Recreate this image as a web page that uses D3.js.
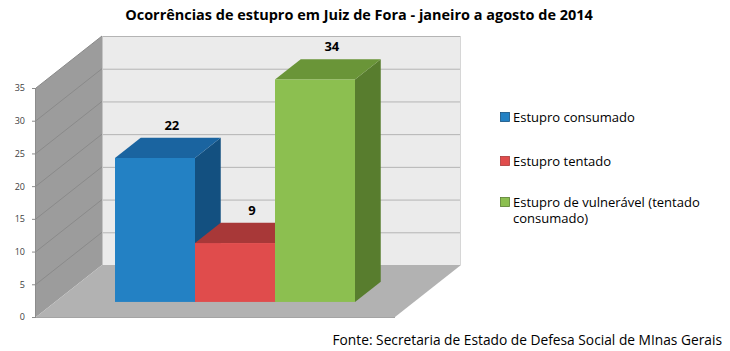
<!DOCTYPE html>
<html><head><meta charset="utf-8">
<script src="https://cdn.jsdelivr.net/npm/d3@7"></script>
<style>body{margin:0;background:#fff}svg{display:block}</style>
</head><body>
<script>
const categories = ["Estupro consumado", "Estupro tentado", "Estupro de vulnerável (tentado consumado)"];
const values = [22, 9, 34];
const yTicks = [0, 5, 10, 15, 20, 25, 30, 35];
const frontColors = ["#2381c4", "#e04c4c", "#8cbf50"];
const topColors = ["#1a64a0", "#a83838", "#6a9538"];
const sideColors = ["#135080", "#a83838", "#587d2e"];
const legendLines = [["Estupro consumado"], ["Estupro tentado"], ["Estupro de vulnerável (tentado", "consumado)"]];
const title = "Ocorrências de estupro em Juiz de Fora - janeiro a agosto de 2014";
const source = "Fonte: Secretaria de Estado de Defesa Social de MInas Gerais";

const W = 730, H = 351;
const svg = d3.select("body").append("svg").attr("width", W).attr("height", H);
const font = "'Open Sans', 'Noto Sans', sans-serif";

// geometry
const wallX0 = 36, floorRight = 395;
const DX = 66, DY = 52;          // full depth offset
const zf = 0.29, zd = 0.39;      // bar front depth and bar depth
const y = d3.scaleLinear().domain([0, 35]).range([317, 88]);
const x = d3.scaleBand().domain(categories).range([115, 355]).padding(0);

const line = d3.line();
// back wall
svg.append("path").attr("d", line([[wallX0+DX, y(35)-DY],[floorRight+DX, y(35)-DY],[floorRight+DX, y(0)-DY],[wallX0+DX, y(0)-DY]])+"Z").attr("fill", "#ebebeb");
// left wall
svg.append("path").attr("d", line([[wallX0, y(35)],[wallX0+DX, y(35)-DY],[wallX0+DX, y(0)-DY],[wallX0, y(0)]])+"Z").attr("fill", "#9c9c9c");
// floor
svg.append("path").attr("d", line([[wallX0, y(0)],[floorRight, y(0)],[floorRight+DX, y(0)-DY],[wallX0+DX, y(0)-DY]])+"Z").attr("fill", "#b2b2b2");
// floor bottom edge
svg.append("line").attr("x1", wallX0).attr("x2", floorRight).attr("y1", y(0)+0.5).attr("y2", y(0)+0.5).attr("stroke", "#a4a4a4");

// gridlines
const gridVals = yTicks.filter(v => v > 0);
svg.selectAll(".gb").data(gridVals).join("line")
  .attr("x1", wallX0+DX).attr("x2", floorRight+DX)
  .attr("y1", d => y(d)-DY+0.5).attr("y2", d => y(d)-DY+0.5)
  .attr("stroke", "#b4b4b4").attr("stroke-width", 1);
svg.selectAll(".gl").data(gridVals).join("line")
  .attr("x1", wallX0).attr("x2", wallX0+DX)
  .attr("y1", d => y(d)).attr("y2", d => y(d)-DY)
  .attr("stroke", "#8a8a8a").attr("stroke-width", 1);
// back wall right edge shadow
svg.append("line").attr("x1", floorRight+DX-0.5).attr("x2", floorRight+DX-0.5).attr("y1", y(35)-DY).attr("y2", y(0)-DY).attr("stroke", "#d6d6d6");
// wall edge
svg.append("line").attr("x1", wallX0+DX+0.5).attr("x2", wallX0+DX+0.5).attr("y1", y(35)-DY).attr("y2", y(0)-DY).attr("stroke", "#c4c4c4");

// axis
svg.append("line").attr("x1", wallX0-0.5).attr("x2", wallX0-0.5).attr("y1", y(35)).attr("y2", y(0)).attr("stroke", "#8c8c8c");
const ax = svg.append("g").attr("transform", `translate(${wallX0},0)`)
  .call(d3.axisLeft(y).tickValues(yTicks).tickSize(4).tickPadding(7).tickFormat(d3.format("d")));
ax.select(".domain").remove();
ax.selectAll(".tick line").attr("stroke", "#8c8c8c");
ax.selectAll("text").attr("font-family", font).attr("font-size", 9).attr("fill", "#404040");

// bars
const fx = zf*DX, fy = zf*DY, bdx = zd*DX, bdy = zd*DY;
const bars = svg.selectAll(".bar").data(categories).join("g");
bars.each(function(c, i) {
  const g = d3.select(this);
  const x0 = x(c), x1 = x(c) + x.bandwidth();
  const yt = y(values[i]) - fy, yb = y(0) - fy;
  g.append("path").attr("d", line([[x1, yt],[x1+bdx, yt-bdy],[x1+bdx, yb-bdy],[x1, yb]])+"Z").attr("fill", sideColors[i]);
  g.append("path").attr("d", line([[x0, yt],[x0+bdx, yt-bdy],[x1+bdx, yt-bdy],[x1, yt]])+"Z").attr("fill", topColors[i]);
  g.append("rect").attr("x", x0).attr("y", yt).attr("width", x1-x0).attr("height", yb-yt).attr("fill", frontColors[i]);
});
// data labels
svg.selectAll(".lbl").data(categories).join("text")
  .attr("x", (c) => x(c) + x.bandwidth()/2 + bdx/2 + 4)
  .attr("y", (c, i) => y(values[i]) - fy - bdy - 12.5)
  .attr("dy", "0.35em").attr("text-anchor", "middle")
  .attr("font-family", font).attr("font-weight", "bold").attr("font-size", 13).attr("fill", "#000")
  .text((c, i) => values[i]);

// legend
const legY = [117, 161, 202];
const lineGap = 16.5;
const leg = svg.selectAll(".leg").data(categories).join("g").attr("transform", (c, i) => `translate(500,${legY[i]})`);
leg.append("rect").attr("x", 0.5).attr("y", -4.5).attr("width", 9).attr("height", 9).attr("fill", (c, i) => frontColors[i]).attr("stroke", (c, i) => sideColors[i]).attr("stroke-width", 0.8);
leg.each(function(c, i) {
  const g = d3.select(this);
  legendLines[i].forEach((l, k) => {
    g.append("text").attr("class", "lt").attr("x", 13).attr("y", k*lineGap).attr("dy", "0.35em")
      .attr("font-family", font).attr("font-size", 12.5).attr("fill", "#000").text(l);
  });
});

function fit(sel, target) {
  const w = sel.node().getComputedTextLength();
  const fs = parseFloat(sel.attr("font-size"));
  sel.attr("font-size", fs * target / w);
}
const t = svg.append("text").attr("x", 359).attr("y", 15).attr("dy", "0.35em").attr("text-anchor", "middle")
  .attr("font-family", font).attr("font-weight", "bold").attr("font-size", 14).attr("fill", "#000").text(title);
fit(t, 468);
const s = svg.append("text").attr("x", 722).attr("y", 340).attr("dy", "0.35em").attr("text-anchor", "end")
  .attr("font-family", font).attr("font-size", 14).attr("fill", "#000").text(source);
fit(s, 390);
// fit legend first line width
const l0 = leg.filter((c, i) => i === 0).select("text");
fit(l0, 122);
const fsL = l0.attr("font-size");
svg.selectAll(".lt").attr("font-size", fsL);
</script>
</body></html>
